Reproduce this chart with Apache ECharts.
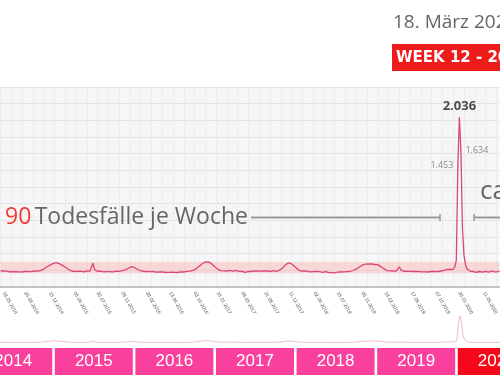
<!DOCTYPE html>
<html>
<head>
<meta charset="utf-8">
<script src="https://cdn.jsdelivr.net/npm/echarts@6/dist/echarts.min.js"></script>
<style>
html,body{margin:0;padding:0;background:#fff;}
#c{width:500px;height:383px;}
</style>
</head>
<body>
<div id="c"></div>
<script>
// ---- data ----
const startDate = '2014-05-05';
const weeklyDeaths = [
  195,188,192,185,190,186,182,188,184,180,183,178,182,186,180,184,188,182,186,190,
  185,189,192,186,190,195,198,205,215,228,240,252,262,270,280,288,292,286,280,272,
  262,250,238,225,212,200,195,190,186,192,188,184,190,186,182,188,192,186,190,200,
  285,210,192,188,184,190,186,182,188,185,180,184,188,182,186,190,184,188,192,196,
  200,205,215,225,238,245,240,232,220,210,202,196,190,186,182,186,190,184,180,186,
  182,178,184,180,176,182,178,174,180,176,172,178,182,176,180,174,178,182,176,180,
  184,188,182,190,196,200,208,218,232,248,264,280,292,300,304,302,294,280,262,245,
  228,214,204,196,190,194,198,192,196,200,194,190,196,200,194,188,192,186,180,176,
  182,188,192,186,190,194,188,192,196,190,186,192,188,194,190,186,190,196,192,188,
  194,200,210,225,245,265,280,290,288,278,262,245,228,212,200,192,188,192,186,190,
  186,182,188,184,180,186,190,184,180,176,180,184,178,174,178,172,176,170,174,178,
  174,180,176,182,178,184,180,186,192,198,205,214,226,240,252,262,270,274,270,276,
  272,278,274,270,276,268,258,245,232,218,205,196,190,194,188,192,196,190,200,244,
  205,192,188,194,190,184,188,192,186,182,186,180,184,188,182,178,182,186,180,184,
  188,182,186,190,184,188,192,196,200,206,212,218,210,204,212,240,320,1453,2036,1634,
  700,380,260,215,195,188,182,186,180,176,182,186,180,178,184,188,182,178,184,190,
  186,182,188,184,190
];
const labelIndices = [2,16,32,48,63,79,95,110,126,141,157,172,188,204,219,235,250,267,283,298,314];
const normalBand = [165, 300];
const years = [2014, 2015, 2016, 2017, 2018, 2019, 2020];
const yearAxisRange = [2014.336, 2020.54];
const highlightYear = 2020;
const titleDate = '18. März 2020';
const weekTag = 'WEEK 12 - 2020';
const avgText = ['90', 'Todesfälle je Woche'];
const captionRight = 'ca.';

// categories (weekly dates)
const categories = weeklyDeaths.map((_, i) => {
  const d = new Date(startDate + 'T00:00:00Z');
  d.setUTCDate(d.getUTCDate() + 7 * i);
  const dd = String(d.getUTCDate()).padStart(2, '0');
  const mm = String(d.getUTCMonth() + 1).padStart(2, '0');
  return dd + '.' + mm + '.' + d.getUTCFullYear();
});

const fmt = v => String(v).replace(/\B(?=(\d{3})+(?!\d))/g, '.');
const maxVal = Math.max(...weeklyDeaths);
const maxIdx = weeklyDeaths.indexOf(maxVal);
const seriesData = weeklyDeaths.map((v, i) => {
  if (v < 1000) return v;
  let label;
  if (i === maxIdx) label = {show: true, position: 'top', distance: 4, fontSize: 13, fontWeight: 'bold', color: '#4a4a4a'};
  else label = {show: true, position: i < maxIdx ? 'left' : 'right', distance: 4, fontSize: 9, color: '#8a8a8a'};
  label.formatter = p => fmt(p.value);
  label.fontFamily = 'Open Sans';
  return {value: v, symbol: 'circle', symbolSize: 1, label};
});

const chart = echarts.init(document.getElementById('c'), null, {renderer: 'canvas'});
chart.setOption({
  animation: false,
  grid: [
    {left: 0, right: 0, top: 87, height: 200, show: true, backgroundColor: '#f6f6f6', borderWidth: 0},
    {left: 0, right: 0, top: 315, height: 30},
    {left: 0, right: 0, top: 348, height: 27}
  ],
  xAxis: [
    {
      gridIndex: 0, type: 'category', data: categories, boundaryGap: false,
      axisLine: {show: true, lineStyle: {color: '#c4c4c4', width: 2}},
      axisTick: {show: false},
      axisLabel: {
        show: true, rotate: -60, fontSize: 5, color: '#555', margin: 5,
        interval: (i) => labelIndices.indexOf(i) >= 0
      },
      splitLine: {show: true, interval: 6, lineStyle: {color: '#ededed', width: 1}}
    },
    {
      gridIndex: 1, type: 'category', data: categories, boundaryGap: false,
      axisLine: {show: false}, axisTick: {show: false}, axisLabel: {show: false}, splitLine: {show: false}
    },
    {
      gridIndex: 2, type: 'value', min: yearAxisRange[0], max: yearAxisRange[1],
      axisLine: {show: false}, axisTick: {show: false}, axisLabel: {show: false}, splitLine: {show: false}
    }
  ],
  yAxis: [
    {gridIndex: 0, type: 'value', min: 0, max: 2400, interval: 200,
      axisLine: {show: false}, axisTick: {show: false}, axisLabel: {show: false},
      splitLine: {show: true, lineStyle: {color: '#e3e3e3', width: 1}}},
    {gridIndex: 1, type: 'value', min: 0, max: 2100, show: false, splitLine: {show: false}},
    {gridIndex: 2, type: 'value', min: 0, max: 1, show: false, splitLine: {show: false}}
  ],
  series: [
    {
      type: 'line', xAxisIndex: 0, yAxisIndex: 0, data: seriesData,
      symbol: 'none', showAllSymbol: true, lineStyle: {color: '#d9467c', width: 1.3},
      itemStyle: {color: '#d9467c'},
      markArea: {
        silent: true,
        itemStyle: {color: 'rgba(248,180,175,0.45)'},
        data: [[{yAxis: normalBand[0]}, {yAxis: normalBand[1]}]]
      },
      z: 3
    },
    {
      type: 'line', xAxisIndex: 1, yAxisIndex: 1, data: weeklyDeaths,
      symbol: 'none', lineStyle: {color: '#f4b9d0', width: 1}
    },
    {
      type: 'bar', xAxisIndex: 2, yAxisIndex: 2,
      barWidth: 78, clip: true,
      data: years.map(y => ({
        value: [y + 0.5, 1],
        itemStyle: {color: y === highlightYear ? '#f5081c' : '#f8409c'}
      })),
      label: {
        show: true, position: 'inside', formatter: p => String(years[p.dataIndex]),
        color: '#fff', fontSize: 17, fontFamily: 'Liberation Sans'
      }
    }
  ],
  graphic: [
    {type: 'text', z: 100, left: 393, top: 13, style: {text: titleDate, font: '19px "Open Sans"', fill: '#666'}},
    {type: 'group', z: 100, left: 392, top: 44, children: [
      {type: 'rect', shape: {x: 0, y: 0, width: 160, height: 27}, style: {fill: '#ee1b1b'}},
      {type: 'text', x: 4, y: 14, style: {text: weekTag, font: 'bold 15px "DejaVu Sans"', fill: '#fff', verticalAlign: 'middle'}}
    ]},
    {type: 'text', z: 100, x: 5, y: 217, style: {
      text: '{r|' + avgText[0] + '} {g|' + avgText[1] + '}',
      verticalAlign: 'middle',
      rich: {
        r: {font: '23px "Open Sans"', fill: '#f03a36'},
        g: {font: '23px "Open Sans"', fill: '#666'}
      }
    }},
    {type: 'line', z: 100, shape: {x1: 251, y1: 217.5, x2: 440, y2: 217.5}, style: {stroke: '#999', lineWidth: 2}},
    {type: 'line', z: 100, shape: {x1: 440, y1: 214, x2: 440, y2: 221}, style: {stroke: '#999', lineWidth: 1.5}},
    {type: 'line', z: 100, shape: {x1: 474, y1: 217.5, x2: 520, y2: 217.5}, style: {stroke: '#999', lineWidth: 2}},
    {type: 'line', z: 100, shape: {x1: 474, y1: 214, x2: 474, y2: 221}, style: {stroke: '#999', lineWidth: 1.5}},
    {type: 'text', z: 100, x: 480, y: 192, style: {text: captionRight, font: '26px "Open Sans"', fill: '#666', verticalAlign: 'middle'}}
  ]
});
</script>
</body>
</html>
